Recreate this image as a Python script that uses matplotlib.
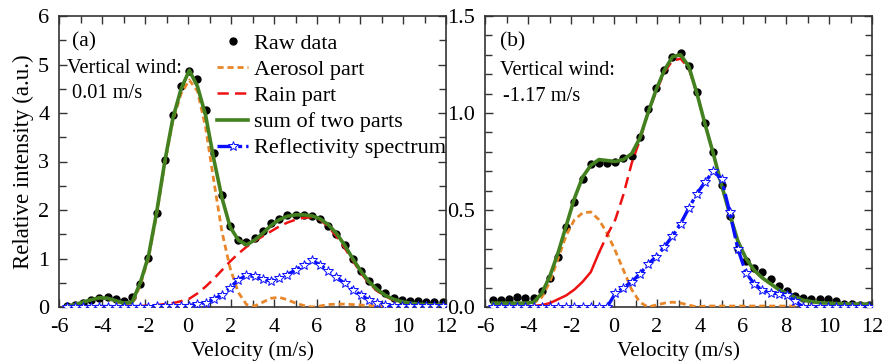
import numpy as np
import matplotlib
matplotlib.use("Agg")
import matplotlib.pyplot as plt
from matplotlib.font_manager import FontProperties
from matplotlib.ticker import MultipleLocator

FONT = 'Liberation Serif'
plt.rcParams['axes.unicode_minus'] = False

# velocity grid (m/s), same for both panels
velocity = [-5.64, -5.26, -4.88, -4.50, -4.12, -3.74, -3.36, -2.98, -2.60, -2.22,
            -1.84, -1.46, -1.08, -0.70, -0.32, 0.06, 0.44, 0.82, 1.20, 1.58,
            1.96, 2.34, 2.72, 3.10, 3.48, 3.86, 4.24, 4.62, 5.00, 5.38,
            5.76, 6.14, 6.52, 6.90, 7.28, 7.66, 8.04, 8.42, 8.80, 9.18,
            9.56, 9.94, 10.32, 10.70, 11.08, 11.46, 11.84]

# panel (a)
raw_a = [0.03, 0.05, 0.08, 0.14, 0.19, 0.20, 0.16, 0.12, 0.20, 0.47,
         1.02, 1.93, 3.04, 3.95, 4.56, 4.87, 4.71, 4.06, 3.18, 2.31,
         1.68, 1.38, 1.34, 1.43, 1.57, 1.73, 1.82, 1.89, 1.89, 1.89,
         1.88, 1.82, 1.68, 1.50, 1.27, 1.00, 0.74, 0.53, 0.41, 0.28,
         0.19, 0.15, 0.13, 0.12, 0.10, 0.10, 0.10]
aerosol_a = [0.02, 0.05, 0.10, 0.15, 0.19, 0.18, 0.12, 0.06, 0.06, 0.45,
             1.00, 1.90, 2.95, 3.85, 4.40, 4.68, 4.45, 3.70, 2.60, 1.55,
             0.80, 0.30, 0.05, 0.02, 0.10, 0.18, 0.20, 0.15, 0.08, 0.03,
             0.00, 0.02, 0.05, 0.06, 0.06, 0.05, 0.04, 0.03, 0.02, 0.01,
             0.00, 0.00, 0.00, 0.00, 0.00, 0.00, 0.00]
rain_a = [0.00, 0.00, 0.00, 0.00, 0.00, 0.00, 0.01, 0.01, 0.01, 0.02,
          0.03, 0.04, 0.06, 0.08, 0.12, 0.17, 0.28, 0.42, 0.58, 0.76,
          0.94, 1.10, 1.24, 1.36, 1.46, 1.56, 1.66, 1.74, 1.80, 1.84,
          1.85, 1.80, 1.66, 1.46, 1.22, 0.96, 0.70, 0.49, 0.33, 0.22,
          0.14, 0.09, 0.06, 0.04, 0.03, 0.02, 0.02]
sum_a = [0.02, 0.05, 0.10, 0.15, 0.19, 0.18, 0.13, 0.08, 0.10, 0.50,
         1.05, 1.95, 3.00, 3.90, 4.50, 4.88, 4.55, 3.95, 3.05, 2.25,
         1.65, 1.38, 1.28, 1.38, 1.52, 1.68, 1.80, 1.87, 1.90, 1.90,
         1.88, 1.82, 1.70, 1.52, 1.28, 1.00, 0.74, 0.52, 0.36, 0.24,
         0.16, 0.11, 0.08, 0.06, 0.05, 0.04, 0.04]
refl_a = [0.01, 0.01, 0.01, 0.01, 0.01, 0.01, 0.01, 0.01, 0.01, 0.01,
          0.01, 0.02, 0.02, 0.02, 0.02, 0.03, 0.06, 0.09, 0.16, 0.25,
          0.40, 0.56, 0.65, 0.63, 0.57, 0.54, 0.59, 0.67, 0.76, 0.87,
          0.96, 0.87, 0.74, 0.61, 0.49, 0.36, 0.25, 0.14, 0.08, 0.04,
          0.02, 0.02, 0.02, 0.02, 0.02, 0.02, 0.02]

# panel (b)
raw_b = [0.038, 0.034, 0.043, 0.053, 0.048, 0.046, 0.080, 0.150, 0.260, 0.410,
         0.540, 0.660, 0.735, 0.743, 0.741, 0.748, 0.766, 0.780, 0.877, 1.020,
         1.130, 1.220, 1.290, 1.310, 1.240, 1.110, 0.950, 0.800, 0.630, 0.470,
         0.300, 0.235, 0.200, 0.180, 0.146, 0.110, 0.083, 0.057, 0.046, 0.043,
         0.043, 0.043, 0.030, 0.014, 0.014, 0.010, 0.010]
aerosol_b = [0.00, 0.00, 0.00, 0.00, 0.005, 0.02, 0.05, 0.13, 0.25, 0.37,
             0.45, 0.485, 0.49, 0.45, 0.38, 0.29, 0.19, 0.09, 0.025, 0.00,
             0.01, 0.02, 0.025, 0.02, 0.01, 0.00, 0.005, 0.005, 0.005, 0.005,
             0.005, 0.005, 0.005, 0.005, 0.005, 0.005, 0.005, 0.005, 0.005, 0.005,
             0.005, 0.005, 0.005, 0.005, 0.005, 0.005, 0.005]
rain_b = [0.00, 0.00, 0.00, 0.00, 0.00, 0.005, 0.01, 0.02, 0.04, 0.06,
          0.09, 0.13, 0.18, 0.28, 0.37, 0.45, 0.58, 0.74, 0.86, 1.00,
          1.11, 1.21, 1.27, 1.28, 1.23, 1.10, 0.94, 0.79, 0.63, 0.48,
          0.34, 0.25, 0.19, 0.15, 0.12, 0.09, 0.07, 0.05, 0.035, 0.028,
          0.022, 0.02, 0.018, 0.016, 0.015, 0.015, 0.015]
sum_b = [0.02, 0.02, 0.02, 0.02, 0.02, 0.025, 0.07, 0.16, 0.28, 0.42,
         0.56, 0.67, 0.73, 0.76, 0.755, 0.75, 0.76, 0.79, 0.87, 1.00,
         1.12, 1.22, 1.29, 1.30, 1.24, 1.10, 0.94, 0.79, 0.63, 0.48,
         0.34, 0.25, 0.19, 0.15, 0.12, 0.09, 0.07, 0.05, 0.035, 0.028,
         0.022, 0.02, 0.018, 0.016, 0.015, 0.015, 0.015]
refl_b = [0.00, 0.00, 0.00, 0.00, 0.00, 0.00, 0.00, 0.00, 0.00, 0.00,
          0.00, 0.00, 0.00, 0.00, 0.00, 0.07, 0.10, 0.13, 0.17, 0.22,
          0.26, 0.31, 0.365, 0.43, 0.51, 0.585, 0.645, 0.70, 0.66, 0.49,
          0.30, 0.175, 0.12, 0.086, 0.072, 0.069, 0.06, 0.03, 0.00, 0.00,
          0.00, 0.00, 0.00, 0.00, 0.00, 0.00, 0.00]

GREEN = '#43801f'
ORANGE = '#e8862a'
RED = '#ee1111'
BLUE = '#0a10ff'

v = np.array(velocity)


def style_axis(ax, ymax, ymajor, yminor, yfmt):
    ax.set_xlim(-6, 12)
    ax.set_ylim(0, ymax)
    ax.xaxis.set_major_locator(MultipleLocator(2))
    ax.xaxis.set_minor_locator(MultipleLocator(1))
    ax.yaxis.set_major_locator(MultipleLocator(ymajor))
    ax.yaxis.set_minor_locator(MultipleLocator(yminor))
    ax.yaxis.set_major_formatter(plt.FormatStrFormatter(yfmt))
    ax.tick_params(which='both', direction='in', top=True, right=True,
                   labelsize=16, width=1.0, color='#333333')
    ax.tick_params(axis='x', pad=8)
    ax.tick_params(axis='y', pad=7)
    ax.tick_params(which='major', length=6)
    ax.tick_params(which='minor', length=5)
    for sp in ax.spines.values():
        sp.set_linewidth(1.2)
        sp.set_color('#333333')
    # tick labels need the serif family set on them directly
    for lbl in ax.xaxis.get_majorticklabels() + ax.yaxis.get_majorticklabels():
        lbl.set_fontproperties(FontProperties(family=FONT, size=16))
    ax.set_xlabel('Velocity (m/s)', fontproperties=FontProperties(family=FONT, size=15.5),
                  labelpad=3)


def draw_panel(ax, raw, aerosol, rain, total, refl, solid_rain_upto=None):
    ax.plot(v, raw, 'o', color='black', markersize=5, label='Raw data', zorder=2)
    ax.plot(v, aerosol, color=ORANGE, lw=2.0, dashes=(2.2, 1.4), label='Aerosol part', zorder=3)
    if solid_rain_upto is None:
        ax.plot(v, rain, color=RED, lw=1.8, dashes=(4.5, 2.5), label='Rain part', zorder=3)
    else:
        m = v <= solid_rain_upto
        ax.plot(v[m], np.array(rain)[m], color=RED, lw=1.8, zorder=3)
        k = np.argmax(~m) - 1
        ax.plot(v[k:], np.array(rain)[k:], color=RED, lw=1.8, dashes=(4.5, 2.5),
                label='Rain part', zorder=3)
    ax.plot(v, total, color=GREEN, lw=2.6, label='sum of two parts', zorder=4)
    ax.plot(v, refl, color=BLUE, lw=2.4, dashes=(5, 1.2, 1.2, 1.2), marker='*',
            markersize=7, markerfacecolor='white', markeredgecolor=BLUE,
            markeredgewidth=0.7, label='Reflectivity spectrum', zorder=5)


def note(ax, x, y, s, size):
    ax.text(x, y, s, transform=ax.transAxes, va='center',
            fontproperties=FontProperties(family=FONT, size=size))


fig = plt.figure(figsize=(8.84, 3.64), dpi=100)
ax1 = fig.add_axes([59 / 884, 57 / 364, 387 / 884, 291 / 364])
ax2 = fig.add_axes([485 / 884, 57 / 364, 387 / 884, 291 / 364])

draw_panel(ax1, raw_a, aerosol_a, rain_a, sum_a, refl_a)
style_axis(ax1, 6, 1, 0.5, '%d')
ax1.set_ylabel('Relative intensity (a.u.)',
               fontproperties=FontProperties(family=FONT, size=16.5), labelpad=3)
note(ax1, 0.034, 0.911, '(a)', 15.5)
note(ax1, 0.021, 0.821, 'Vertical wind:', 14.7)
note(ax1, 0.034, 0.732, '0.01 m/s', 14.7)
ax1.legend(loc='upper right', bbox_to_anchor=(1.0, 0.94), frameon=False,
           prop=FontProperties(family=FONT, size=16), handlelength=1.4,
           handletextpad=0.25, labelspacing=0.25, numpoints=1, borderpad=0,
           borderaxespad=0)

draw_panel(ax2, raw_b, aerosol_b, rain_b, sum_b, refl_b, solid_rain_upto=-0.7)
style_axis(ax2, 1.5, 0.5, 0.1, '%.1f')
note(ax2, 0.039, 0.911, '(b)', 15.5)
note(ax2, 0.039, 0.811, 'Vertical wind:', 14.7)
note(ax2, 0.047, 0.722, '-1.17 m/s', 14.7)

fig.savefig('out.png', dpi=100)
